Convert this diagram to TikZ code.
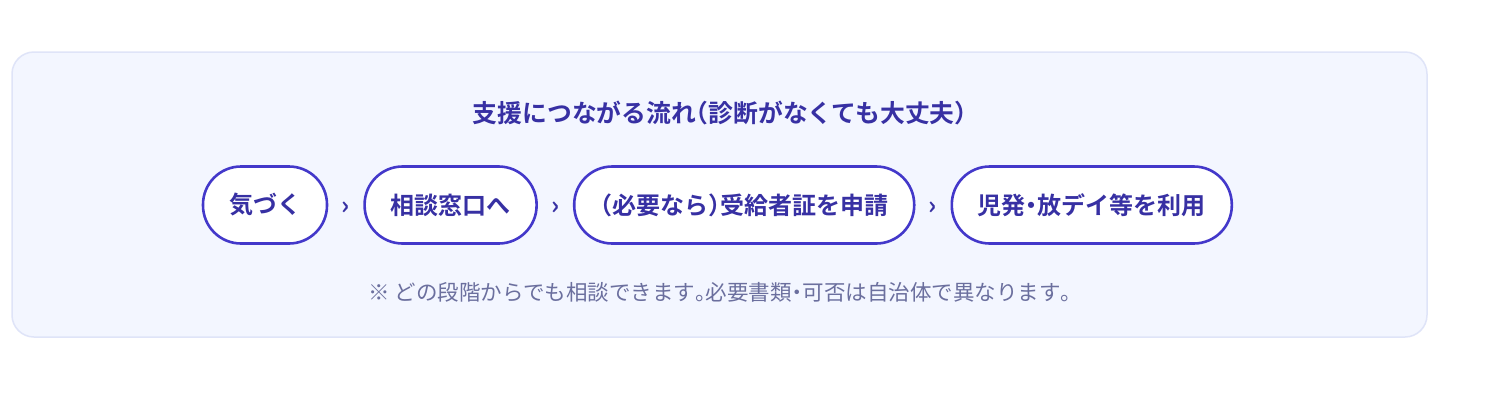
\documentclass[tikz,border=0pt]{standalone}
\usepackage{fontspec}
\setmainfont{Noto Sans CJK JP}
\newfontfamily\jpbold{Noto Sans CJK JP Bold}
\usetikzlibrary{positioning,calc}
\definecolor{panelfill}{HTML}{F3F6FF}
\definecolor{paneldraw}{HTML}{DFE4F8}
\definecolor{pillline}{HTML}{4338CA}
\definecolor{pilltext}{HTML}{3730A3}
\definecolor{notetext}{HTML}{6B6F9E}
% half-width punctuation
\newcommand\hw[1]{{\addfontfeatures{RawFeature=+halt}#1}}
\tikzset{
  pill/.style={draw=pillline, line width=2.6pt, fill=white, rounded corners=38pt,
    minimum height=77pt, inner xsep=26pt, text=pilltext, font=\jpbold\fontsize{24}{28}\selectfont},
  chevron/.style={text=pilltext, inner sep=0pt, yshift=-3pt,
    font=\jpbold\fontsize{25}{25}\selectfont}
}
\begin{document}
\begin{tikzpicture}[x=1pt, y=-1pt, line join=round, line cap=round, node distance=35pt]
	\useasboundingbox (0,0) rectangle (1488,400);
	\fill[white] (0,0) rectangle (1488,400);
	% panel
	\draw[paneldraw, fill=panelfill, line width=1.5pt, rounded corners=22pt] (12,52) rectangle (1427,337);
	\node[text=pilltext, font=\jpbold\fontsize{24.8}{28}\selectfont] (title) at (720,113) {支援につながる流れ\hw{（}診断がなくても大丈夫\hw{）}};
	% flow
	\node[pill] (kizuku) at (265,205) {気づく};
	\node[pill, right=of kizuku] (madoguchi) {相談窓口へ};
	\node[pill, right=of madoguchi] (shinsei) {\hw{（}必要なら\hw{）}受給者証を申請};
	\node[pill, right=of shinsei] (riyou) {児発\hw{・}放デイ等を利用};
	\node[chevron] (c1) at ($(kizuku.east)!0.5!(madoguchi.west)$) {›};
	\node[chevron] (c2) at ($(madoguchi.east)!0.5!(shinsei.west)$) {›};
	\node[chevron] (c3) at ($(shinsei.east)!0.5!(riyou.west)$) {›};
	\node[text=notetext, font=\fontsize{21.5}{24}\selectfont] (note) at (720,292) {※ どの段階からでも相談できます\hw{。}必要書類\hw{・}可否は自治体で異なります\hw{。}};
\end{tikzpicture}
\end{document}
